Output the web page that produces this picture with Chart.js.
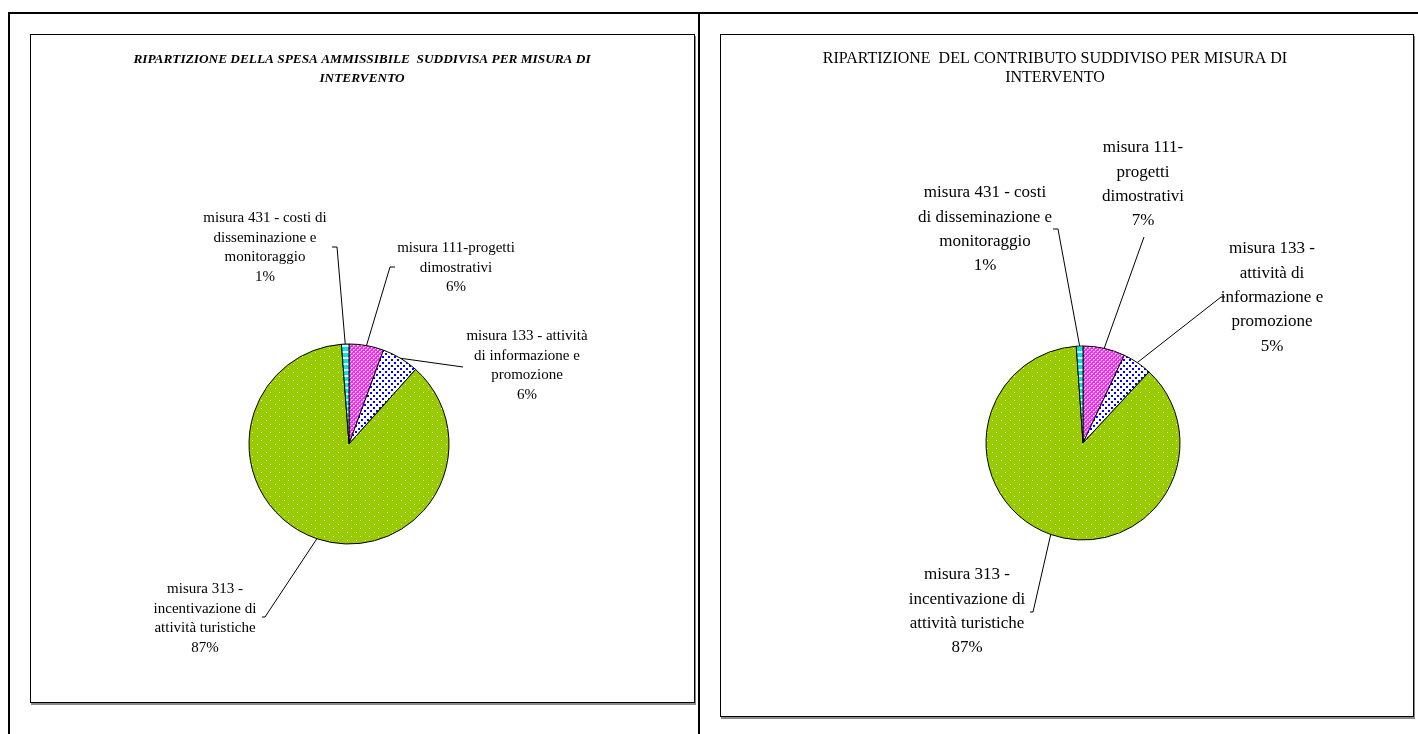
<!DOCTYPE html>
<html><head><meta charset="utf-8">
<script src="https://cdn.jsdelivr.net/npm/chart.js@4.4.1/dist/chart.umd.min.js"></script>
<style>
html,body{margin:0;padding:0;background:#fff;width:1418px;height:734px;overflow:hidden;}
.frame{position:absolute;background:#000;}
.box{position:absolute;border:1px solid #000;box-shadow:1px 2px 0 #8a8a8a;background:#fff;}
canvas{position:absolute;}
</style></head><body>
<div class="frame" style="left:8px;top:12px;width:1410px;height:2px"></div>
<div class="frame" style="left:8px;top:12px;width:2px;height:722px"></div>
<div class="frame" style="left:698px;top:12px;width:2px;height:722px"></div>
<div class="box" style="left:30px;top:34px;width:663px;height:667px"></div>
<div class="box" style="left:720px;top:34px;width:692px;height:681px"></div>
<canvas id="c1" width="663" height="667" style="left:31px;top:35px"></canvas>
<canvas id="c2" width="692" height="681" style="left:721px;top:35px"></canvas>
<script>
// ---- data ----
const categories = [
  'misura 111-progetti dimostrativi',
  'misura 133 - attività di informazione e promozione',
  'misura 313 - incentivazione di attività turistiche',
  'misura 431 - costi di disseminazione e monitoraggio'
];
const spesaValues = [5.6, 6.0, 87.2, 1.2];
const contributoValues = [7.0, 4.9, 87.0, 1.1];
const spesaTitle = ['RIPARTIZIONE DELLA SPESA AMMISSIBILE  SUDDIVISA PER MISURA DI', 'INTERVENTO'];
const contributoTitle = ['RIPARTIZIONE  DEL CONTRIBUTO SUDDIVISO PER MISURA DI', 'INTERVENTO'];
const spesaLabelLines = [
  ['misura 111-progetti', 'dimostrativi'],
  ['misura 133 - attività', 'di informazione e', 'promozione'],
  ['misura 313 -', 'incentivazione di', 'attività turistiche'],
  ['misura 431 - costi di', 'disseminazione e', 'monitoraggio']
];
const contributoLabelLines = [
  ['misura 111-', 'progetti', 'dimostrativi'],
  ['misura 133 -', 'attività di', 'informazione e', 'promozione'],
  ['misura 313 -', 'incentivazione di', 'attività turistiche'],
  ['misura 431 - costi', 'di disseminazione e', 'monitoraggio']
];

// ---- styles / layout ----
function makePattern(kind){
  const c = document.createElement('canvas');
  const g = c.getContext('2d');
  if (kind === 'green') {
    c.width = 9; c.height = 8;
    g.fillStyle = '#99CC00'; g.fillRect(0,0,9,8);
    g.fillStyle = '#ffffff'; g.fillRect(1,1,1,1); g.fillRect(5,5,1,1);
  } else if (kind === 'pink') {
    c.width = 4; c.height = 4;
    g.fillStyle = '#FF22FF'; g.fillRect(0,0,4,4);
    g.fillStyle = '#ffb0ff'; g.fillRect(0,1,1,1); g.fillRect(1,0,1,1); g.fillRect(2,3,1,1); g.fillRect(3,2,1,1);
    g.fillStyle = '#ffffff'; g.fillRect(0,0,1,1); g.fillRect(2,2,1,1);
  } else if (kind === 'blue') {
    c.width = 6; c.height = 6;
    g.fillStyle = '#ffffff'; g.fillRect(0,0,6,6);
    g.fillStyle = '#0000FF'; g.fillRect(0,0,2,2); g.fillRect(3,3,2,2);
  } else {
    c.width = 4; c.height = 6;
    g.fillStyle = '#00E5EE'; g.fillRect(0,0,4,6);
    g.fillStyle = '#ffffff'; g.fillRect(0,4,4,2);
  }
  return g.createPattern(c, 'repeat');
}
const sliceFills = [makePattern('pink'), makePattern('blue'), makePattern('green'), makePattern('cyan')];

function labelsPlugin(cfg){
  return {
    id: 'customLabels',
    afterDatasetsDraw(chart){
      const ctx = chart.ctx;
      const meta = chart.getDatasetMeta(0);
      const values = chart.data.datasets[0].data;
      const total = values.reduce((a,b)=>a+b,0);
      ctx.save();
      ctx.fillStyle = '#000';
      ctx.textAlign = 'center';
      ctx.textBaseline = 'middle';
      ctx.font = cfg.titleFont;
      cfg.title.forEach((t,i)=>ctx.fillText(t, cfg.titleX, cfg.titleY + i*cfg.titleLH));
      meta.data.forEach((arc, i) => {
        const p = arc.getProps(['x','y','startAngle','endAngle','outerRadius'], true);
        const mid = (p.startAngle + p.endAngle)/2;
        const ax = p.x + p.outerRadius*Math.cos(mid);
        const ay = p.y + p.outerRadius*Math.sin(mid);
        const L = cfg.labels[i];
        ctx.strokeStyle = '#000'; ctx.lineWidth = 1;
        ctx.beginPath();
        ctx.moveTo(p.x + L.s[0], p.y + L.s[1]);
        if (L.e) ctx.lineTo(p.x + L.e[0], p.y + L.e[1]);
        ctx.lineTo(ax, ay);
        ctx.stroke();
        ctx.font = cfg.labelFont;
        const lines = cfg.lines[i].concat([Math.round(values[i]/total*100) + '%']);
        lines.forEach((t,k)=>ctx.fillText(t, p.x + L.c[0], p.y + L.c[1] + k*cfg.labelLH));
      });
      ctx.restore();
    }
  };
}

function makeChart(id, values, radius, padding, cfg){
  return new Chart(document.getElementById(id), {
    type: 'pie',
    data: {
      labels: categories,
      datasets: [{
        data: values,
        backgroundColor: sliceFills,
        borderColor: '#000',
        borderWidth: 1
      }]
    },
    options: {
      responsive: false,
      animation: false,
      events: [],
      radius: radius,
      layout: { padding: padding },
      plugins: { legend: { display: false }, tooltip: { enabled: false }, title: { display: false } }
    },
    plugins: [labelsPlugin(cfg)]
  });
}

makeChart('c1', spesaValues, 100, {left: 208, right: 235, top: 299, bottom: 148}, {
  title: spesaTitle, titleFont: 'bold italic 13.3px "Liberation Serif"', titleX: 331, titleY: 25, titleLH: 19,
  labelFont: '15px "Liberation Serif"', labelLH: 19.7, lines: spesaLabelLines,
  labels: [
    {c: [107, -196], s: [46, -177], e: [41, -177]},
    {c: [178, -108], s: [114, -77]},
    {c: [-144, 145], s: [-87, 173], e: [-84, 173]},
    {c: [-84, -226], s: [-17, -197], e: [-12, -197]}
  ]
});

makeChart('c2', contributoValues, 97, {left: 252, right: 220, top: 298, bottom: 163}, {
  title: contributoTitle, titleFont: '16px "Liberation Serif"', titleX: 334, titleY: 24, titleLH: 19,
  labelFont: '17px "Liberation Serif"', labelLH: 24.3, lines: contributoLabelLines,
  labels: [
    {c: [60, -295], s: [61, -206]},
    {c: [189, -194], s: [142, -146], e: [138, -146]},
    {c: [-116, 132], s: [-53, 169], e: [-50, 169]},
    {c: [-98, -250], s: [-30, -214], e: [-25, -214]}
  ]
});
</script>
</body></html>
